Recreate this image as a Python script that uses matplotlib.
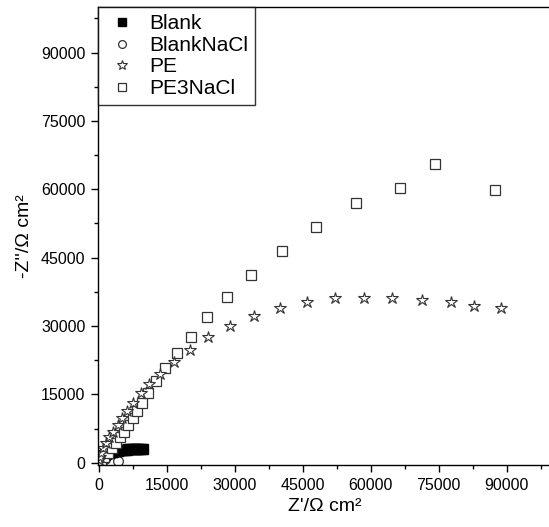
import matplotlib
matplotlib.use("Agg")
import matplotlib.pyplot as plt
from matplotlib.ticker import MultipleLocator

plt.rcParams['font.family'] = ['Liberation Sans', 'DejaVu Sans']

# Blank (filled squares)
blank_x = [50, 100, 150, 200, 300, 400, 500, 650, 800, 1000, 1200, 1400, 1650, 1900,
           2200, 2500, 2800, 3100, 3450, 3800, 4150, 4500, 4900, 5300, 5700, 6100,
           6500, 6900, 7300, 7700, 8100, 8500, 8900, 9300, 9650]
blank_y = [120, 250, 380, 500, 700, 880, 1030, 1220, 1380, 1560, 1710, 1840, 1970, 2090,
           2200, 2300, 2390, 2460, 2540, 2600, 2660, 2710, 2760, 2810, 2850, 2890,
           2920, 2950, 2980, 3000, 3030, 3050, 3070, 3090, 3110]

# BlankNaCl (open circles)
blanknacl_x = [60, 120, 200, 300, 450, 650, 900, 1300, 4300]
blanknacl_y = [200, 350, 500, 620, 700, 750, 760, 720, 400]

# PE (open stars)
pe_x = [110, 220, 440, 880, 1480, 2270, 3150, 4130, 5140, 6240, 7570, 9200, 11030,
        13520, 16550, 20070, 24110, 28960, 34130, 40000, 45950, 52060, 58530, 64790,
        71250, 77720, 82730, 88680]
pe_y = [650, 1300, 2190, 3290, 4310, 5540, 6850, 8170, 9790, 11390, 13210, 15260, 17300,
        19490, 22050, 24810, 27590, 29940, 32130, 33880, 35190, 36140, 36140, 36140,
        35700, 35190, 34450, 33880]

# PE3NaCl (open squares)
pe3_x = [440, 1100, 1920, 2800, 3750, 4630, 5580, 6460, 7430, 8320, 9420, 10880, 12570,
         14560, 17140, 20300, 23890, 28240, 33600, 40370, 48020, 56840, 66400, 74190, 87510]
pe3_y = [650, 1300, 2120, 3220, 4310, 5540, 6850, 8320, 9790, 11390, 13210, 15400, 17890,
         20850, 24020, 27660, 32040, 36290, 41110, 46430, 51620, 57000, 60290, 65480, 59940]

xticks = [0, 15000, 30000, 45000, 60000, 75000, 90000]
yticks = [0, 15000, 30000, 45000, 60000, 75000, 90000]

fig = plt.figure(figsize=(5.49, 5.27), dpi=100)
ax = fig.add_axes([98/549, 62/527, (552-98)/549, (465-7)/527])

edge = '#333333'
ax.plot(blanknacl_x, blanknacl_y, linestyle='none', marker='o', markersize=7,
        markerfacecolor='white', markeredgecolor=edge, markeredgewidth=0.9, label='BlankNaCl')
ax.plot(blank_x, blank_y, linestyle='none', marker='s', markersize=7.5,
        markerfacecolor='black', markeredgecolor='black', label='Blank')
ax.plot(pe3_x, pe3_y, linestyle='none', marker='s', markersize=6.5,
        markerfacecolor='white', markeredgecolor=edge, markeredgewidth=0.9, label='PE3NaCl')
ax.plot(pe_x, pe_y, linestyle='none', marker='*', markersize=9,
        markerfacecolor='white', markeredgecolor=edge, markeredgewidth=0.8, label='PE')

ax.set_xlim(-200, 100000)
ax.set_ylim(-500, 100000)
ax.set_xticks(xticks)
ax.set_yticks(yticks)
ax.xaxis.set_minor_locator(MultipleLocator(7500))
ax.yaxis.set_minor_locator(MultipleLocator(7500))
ax.tick_params(which='major', direction='out', length=5, width=1, labelsize=11.5, pad=4)
ax.tick_params(which='minor', direction='out', length=3, width=1)
for s in ax.spines.values():
    s.set_linewidth(1.0)

ax.set_xlabel("Z'/Ω cm²", fontsize=14, labelpad=4)
ax.set_ylabel("-Z''/Ω cm²", fontsize=14, labelpad=6)

h, l = ax.get_legend_handles_labels()
order = ['Blank', 'BlankNaCl', 'PE', 'PE3NaCl']
hd = dict(zip(l, h))
leg = ax.legend([hd[k] for k in order], order, loc='upper left', fontsize=15,
                frameon=True, fancybox=False, edgecolor='black', borderaxespad=0,
                handlelength=1.6, handletextpad=0.5, labelspacing=0.12, borderpad=0.35,
                markerscale=0.8)
leg.get_frame().set_linewidth(1.0)

fig.savefig('out.png', dpi=100)
